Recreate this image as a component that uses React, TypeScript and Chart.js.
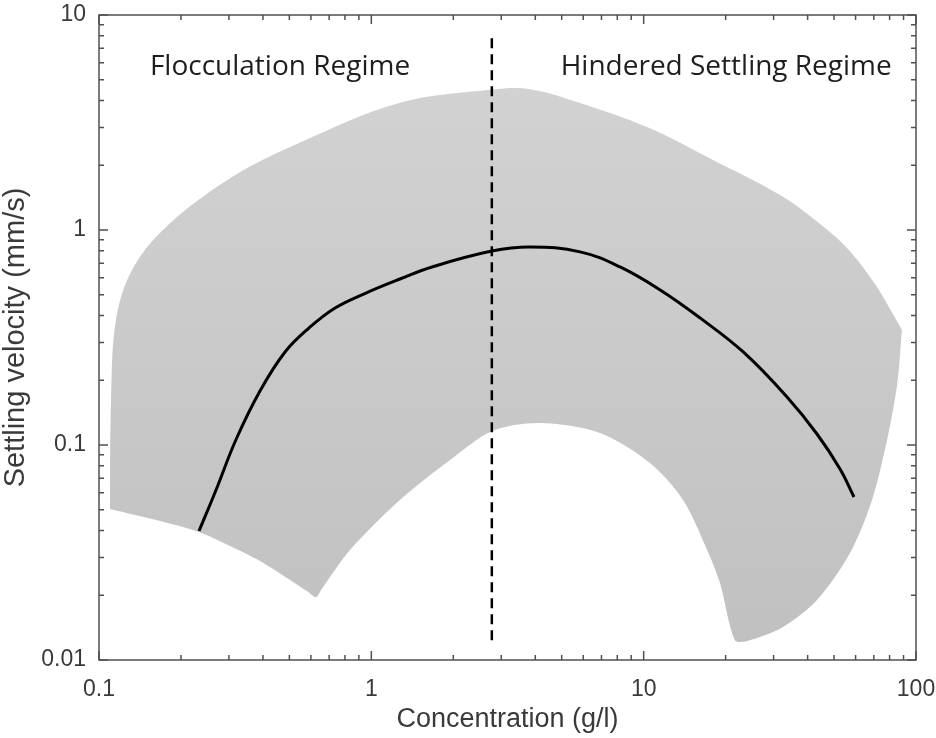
import React, { useEffect, useRef } from 'react';
import { Chart, registerables } from 'chart.js';

Chart.register(...registerables);

// Mean settling-velocity curve
const curveX = [0.233, 0.269, 0.318, 0.39, 0.482, 0.59, 0.736, 0.955, 1.274, 1.67, 2.77, 3.83, 5.84, 8.19, 11.5, 16.1, 23.2, 33.6, 43.3, 52.6, 59.2];
const curveY = [0.0398, 0.0618, 0.1055, 0.1783, 0.2708, 0.35, 0.4337, 0.509, 0.5916, 0.673, 0.798, 0.834, 0.791, 0.673, 0.526, 0.39, 0.2708, 0.1673, 0.1125, 0.0773, 0.0573];

// Envelope (grey band): upper and lower boundaries
const upperX = [0.1097, 0.1107, 0.1154, 0.1322, 0.1762, 0.308, 0.543, 1.264, 2.8, 3.83, 5.84, 10.29, 17.97, 31.7, 42.6, 55.8, 70.7, 80.3, 88.8];
const upperY = [0.0504, 0.162, 0.3814, 0.652, 1.033, 1.764, 2.54, 3.9, 4.5, 4.52, 3.9, 3.01, 2.117, 1.455, 1.113, 0.8249, 0.561, 0.429, 0.343];
const lowerX = [0.1097, 0.1675, 0.233, 0.3027, 0.39, 0.5029, 0.5855, 0.6266, 0.659, 0.835, 1.274, 1.945, 2.77, 4.16, 6.91, 10.55, 13.95, 17.1, 19.07, 21.6, 23.96, 32.5, 43.3, 57.3, 68.95, 78.3, 85.2, 88.8];
const lowerY = [0.0504, 0.0443, 0.0394, 0.0339, 0.02888, 0.02356, 0.02076, 0.0196, 0.0215, 0.0325, 0.0555, 0.0851, 0.116, 0.1265, 0.1137, 0.0824, 0.0555, 0.0325, 0.0228, 0.0124, 0.01225, 0.01424, 0.019, 0.0315, 0.0555, 0.1055, 0.19, 0.343];

// Regime boundary (dashed)
const dashX = [2.77, 2.77];
const dashY = [7.8, 0.012];

// Regime labels
const regimeLabels = ['Flocculation Regime', 'Hindered Settling Regime'];
const regimeX = [0.462, 20.1];
const regimeY = [5.26, 5.26];

// Axis ticks
const xTickValues = [0.1, 1, 10, 100];
const xTickLabels = ['0.1', '1', '10', '100'];
const yTickValues = [0.01, 0.1, 1, 10];
const yTickLabels = ['0.01', '0.1', '1', '10'];
const minorMultipliers = [2, 3, 4, 5, 6, 7, 8, 9];

const toPts = (xs: number[], ys: number[]) => xs.map((x, i) => ({ x, y: ys[i] }));

const FAMILY = '"Liberation Sans", Arial, sans-serif';
const TICK_FONT = { family: FAMILY, size: 23 };
const TEXT_COLOR = '#3a3a3a';

const framePlugin = {
  id: 'frame',
  afterDatasetsDraw(chart: any) {
    const { ctx, chartArea: a, scales } = chart;
    const xs = scales.x;
    const ys = scales.y;
    ctx.save();
    ctx.strokeStyle = '#505050';
    ctx.lineWidth = 1.5;
    ctx.strokeRect(a.left, a.top, a.right - a.left, a.bottom - a.top);
    ctx.beginPath();
    for (let i = 0; i < xTickValues.length; i++) {
      const d = xTickValues[i];
      const pMaj = xs.getPixelForValue(d);
      ctx.moveTo(pMaj, a.bottom); ctx.lineTo(pMaj, a.bottom - 9);
      ctx.moveTo(pMaj, a.top); ctx.lineTo(pMaj, a.top + 9);
      if (i < xTickValues.length - 1) {
        for (const m of minorMultipliers) {
          const p = xs.getPixelForValue(d * m);
          ctx.moveTo(p, a.bottom); ctx.lineTo(p, a.bottom - 5);
          ctx.moveTo(p, a.top); ctx.lineTo(p, a.top + 5);
        }
      }
    }
    for (let i = 0; i < yTickValues.length; i++) {
      const d = yTickValues[i];
      const pMaj = ys.getPixelForValue(d);
      ctx.moveTo(a.left, pMaj); ctx.lineTo(a.left + 9, pMaj);
      ctx.moveTo(a.right, pMaj); ctx.lineTo(a.right - 9, pMaj);
      if (i < yTickValues.length - 1) {
        for (const m of minorMultipliers) {
          const p = ys.getPixelForValue(d * m);
          ctx.moveTo(a.left, p); ctx.lineTo(a.left + 5, p);
          ctx.moveTo(a.right, p); ctx.lineTo(a.right - 5, p);
        }
      }
    }
    ctx.stroke();

    ctx.fillStyle = '#1e1e1e';
    ctx.font = '28px "Open Sans", "Noto Sans", sans-serif';
    ctx.textAlign = 'center';
    ctx.textBaseline = 'alphabetic';
    for (let i = 0; i < regimeLabels.length; i++) {
      ctx.fillText(regimeLabels[i], xs.getPixelForValue(regimeX[i]), ys.getPixelForValue(regimeY[i]));
    }
    ctx.restore();
  },
};

export default function App() {
  const canvasRef = useRef<HTMLCanvasElement | null>(null);

  useEffect(() => {
    document.body.style.margin = '0';
    const canvas = canvasRef.current;
    if (!canvas) return;

    const bandFill = (c: any) => {
      const chart = c.chart;
      const a = chart.chartArea;
      if (!a) return '#cacaca';
      const g = chart.ctx.createLinearGradient(0, a.top, 0, a.bottom);
      g.addColorStop(0, '#d4d4d4');
      g.addColorStop(1, '#c0c0c0');
      return g;
    };

    const chart = new Chart(canvas, {
      type: 'line',
      data: {
        datasets: [
          {
            data: toPts(curveX, curveY),
            borderColor: '#000000',
            borderWidth: 3,
            fill: false,
            pointRadius: 0,
            tension: 0.4,
          },
          {
            data: toPts(dashX, dashY),
            borderColor: '#000000',
            borderWidth: 2.5,
            borderDash: [10, 6],
            fill: false,
            pointRadius: 0,
            tension: 0,
          },
          {
            data: toPts(upperX, upperY),
            borderWidth: 0,
            borderColor: 'rgba(0,0,0,0)',
            backgroundColor: bandFill,
            fill: '+1',
            pointRadius: 0,
            tension: 0.35,
          },
          {
            data: toPts(lowerX, lowerY),
            borderWidth: 0,
            borderColor: 'rgba(0,0,0,0)',
            fill: false,
            pointRadius: 0,
            tension: 0.3,
          },
        ],
      } as any,
      options: {
        animation: false,
        responsive: true,
        maintainAspectRatio: false,
        layout: { padding: { top: 15, right: 20, left: 0, bottom: 0 } },
        plugins: {
          legend: { display: false },
          tooltip: { enabled: false },
        },
        scales: {
          x: {
            type: 'logarithmic',
            position: 'bottom',
            min: 0.1,
            max: 100,
            grid: { display: false, drawTicks: false },
            border: { display: false },
            afterBuildTicks: (s: any) => {
              s.ticks = xTickValues.map((v) => ({ value: v }));
            },
            afterFit: (s: any) => {
              s.height = 78;
              s.paddingLeft = 0;
              s.paddingRight = 0;
            },
            ticks: {
              autoSkip: false,
              maxRotation: 0,
              padding: 16,
              color: TEXT_COLOR,
              font: TICK_FONT,
              callback: (v: any) => {
                const i = xTickValues.indexOf(Number(v));
                return i >= 0 ? xTickLabels[i] : '';
              },
            },
            title: {
              display: true,
              text: 'Concentration (g/l)',
              color: TEXT_COLOR,
              font: { family: FAMILY, size: 27, lineHeight: 1 },
              padding: { top: 0, bottom: 5 },
            },
          },
          y: {
            type: 'logarithmic',
            position: 'left',
            min: 0.01,
            max: 10,
            grid: { display: false, drawTicks: false },
            border: { display: false },
            afterBuildTicks: (s: any) => {
              s.ticks = yTickValues.map((v) => ({ value: v }));
            },
            afterFit: (s: any) => {
              s.width = 99;
              s.paddingTop = 0;
              s.paddingBottom = 0;
            },
            ticks: {
              autoSkip: false,
              padding: 13,
              color: TEXT_COLOR,
              font: TICK_FONT,
              callback: (v: any) => {
                const i = yTickValues.indexOf(Number(v));
                return i >= 0 ? yTickLabels[i] : '';
              },
            },
            title: {
              display: true,
              text: 'Settling velocity (mm/s)',
              color: TEXT_COLOR,
              font: { family: FAMILY, size: 29, lineHeight: 1 },
              padding: { top: 1, bottom: 0 },
            },
          },
        },
      } as any,
      plugins: [framePlugin],
    });

    return () => {
      chart.destroy();
    };
  }, []);

  return (
    <div style={{ position: 'fixed', left: 0, top: 0, width: 936, height: 738 }}>
      <canvas ref={canvasRef} />
    </div>
  );
}
